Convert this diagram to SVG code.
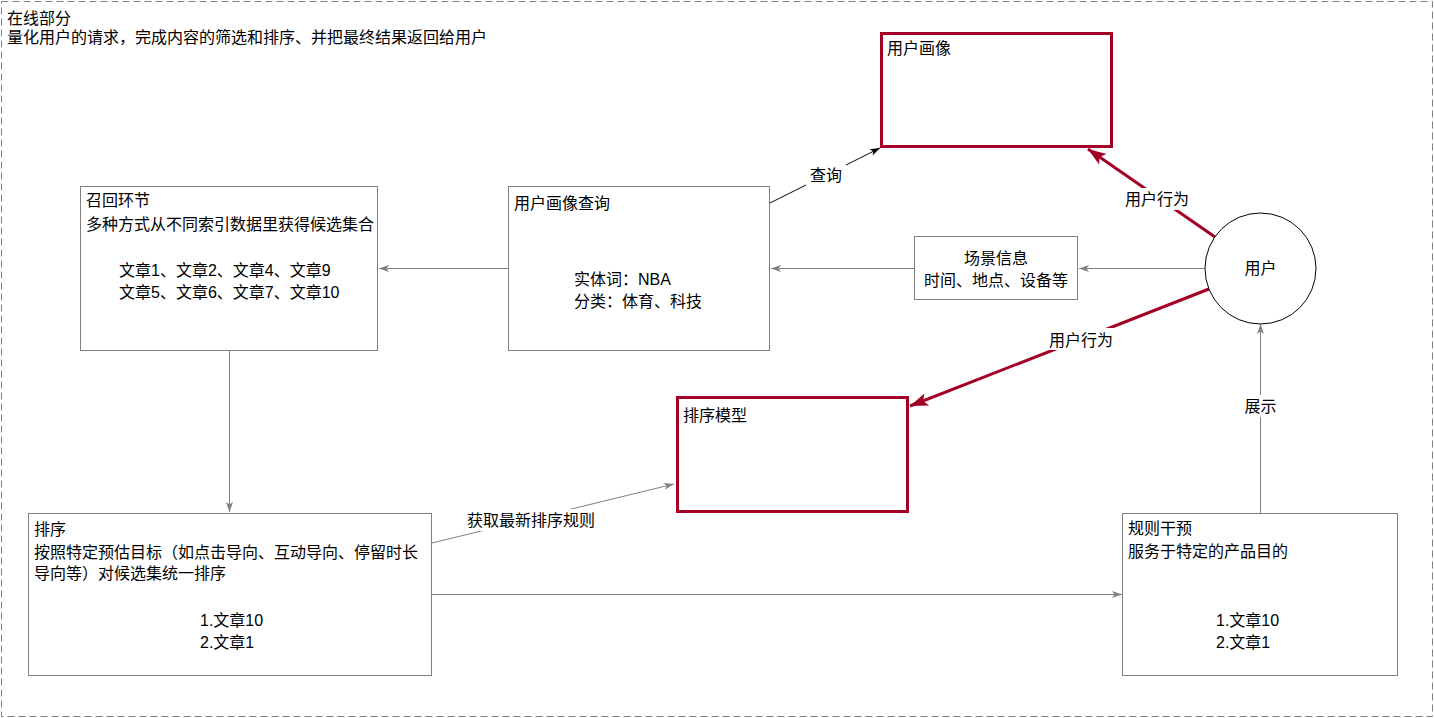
<svg xmlns="http://www.w3.org/2000/svg" width="1434" height="718" viewBox="0 0 1434 718">
<style>
text{font-family:"Liberation Sans","Noto Sans CJK SC",sans-serif;font-size:16px;fill:#000}
.c{text-anchor:middle}
.box{fill:#fff;stroke:#808080;stroke-width:1}
.rbox{fill:#fff;stroke:#A20025;stroke-width:3}
.ln{fill:none;stroke:#808080;stroke-width:1}
.lk{fill:none;stroke:#000;stroke-width:1}
.lr{fill:none;stroke:#A20025;stroke-width:3}
.lbl{fill:#fff;stroke:none}
</style>
<defs>
<marker id="ag" markerUnits="userSpaceOnUse" markerWidth="12" markerHeight="10" viewBox="0 0 12 10" refX="11" refY="5" orient="auto"><path d="M1,1.5 L11,5 L1,8.5 L3.5,5 z" fill="#808080"/></marker>
<marker id="ak" markerUnits="userSpaceOnUse" markerWidth="12" markerHeight="10" viewBox="0 0 12 10" refX="11" refY="5" orient="auto"><path d="M1,1.5 L11,5 L1,8.5 L3.5,5 z" fill="#000"/></marker>
<marker id="ar" markerUnits="userSpaceOnUse" markerWidth="20" markerHeight="16" viewBox="0 0 20 16" refX="19" refY="8" orient="auto"><path d="M1,1.5 L19,8 L1,14.5 L5,8 z" fill="#A20025"/></marker>
</defs>
<rect width="1434" height="718" fill="#fff"/>
<g id="container">
<rect x="1.5" y="1.5" width="1431" height="715" fill="none" stroke="#808080" stroke-dasharray="7 4"/>
<text x="7" y="24">在线部分</text>
<text x="7" y="43">量化用户的请求，完成内容的筛选和排序、并把最终结果返回给用户</text>
</g>
<g id="connectors">
<path class="ln" d="M229.5,351 V512" marker-end="url(#ag)"/>
<path class="ln" d="M508,268.5 H379" marker-end="url(#ag)"/>
<path class="ln" d="M914,268.5 H771" marker-end="url(#ag)"/>
<path class="ln" d="M1205,268.5 H1079" marker-end="url(#ag)"/>
<path class="ln" d="M432,594.5 H1122" marker-end="url(#ag)"/>
<path class="ln" d="M1260.5,513 V324" marker-end="url(#ag)"/>
<path class="ln" d="M432,543 L674,484" marker-end="url(#ag)"/>
<path class="lk" d="M770,203 L880,148" marker-end="url(#ak)"/>
<path class="lr" d="M1215,237 L1088,149" marker-end="url(#ar)"/>
<path class="lr" d="M1209,289 L910,406" marker-end="url(#ar)"/>
<rect class="lbl" x="806" y="164" width="40" height="22"/>
<text class="c" x="826" y="181">查询</text>
<rect class="lbl" x="465" y="509" width="132" height="22"/>
<text class="c" x="531" y="526">获取最新排序规则</text>
<rect class="lbl" x="1124" y="188" width="67" height="22"/>
<text class="c" x="1157" y="205">用户行为</text>
<rect class="lbl" x="1047" y="328" width="68" height="22"/>
<text class="c" x="1081" y="346">用户行为</text>
<rect class="lbl" x="1240" y="395" width="41" height="22"/>
<text class="c" x="1260.5" y="412">展示</text>
</g>
<g id="profile">
<rect class="rbox" x="881.5" y="33.5" width="230" height="113"/>
<text x="887" y="54">用户画像</text>
</g>
<g id="recall">
<rect class="box" x="80.5" y="186.5" width="297" height="164"/>
<text x="86" y="206">召回环节</text>
<text x="86" y="230">多种方式从不同索引数据里获得候选集合</text>
<text x="119" y="276">文章1、文章2、文章4、文章9</text>
<text x="119" y="298">文章5、文章6、文章7、文章10</text>
</g>
<g id="profile-query">
<rect class="box" x="508.5" y="186.5" width="261" height="164"/>
<text x="514" y="209">用户画像查询</text>
<text x="574" y="285">实体词：NBA</text>
<text x="574" y="307">分类：体育、科技</text>
</g>
<g id="scene">
<rect class="box" x="914.5" y="236.5" width="163" height="63"/>
<text class="c" x="996" y="264">场景信息</text>
<text class="c" x="996" y="286">时间、地点、设备等</text>
</g>
<g id="user">
<circle cx="1260.5" cy="268.5" r="55.5" fill="#fff" stroke="#000" stroke-width="1"/>
<text class="c" x="1260.5" y="274">用户</text>
</g>
<g id="rank-model">
<rect class="rbox" x="677.5" y="397.5" width="230" height="114"/>
<text x="683" y="421">排序模型</text>
</g>
<g id="rank">
<rect class="box" x="28.5" y="513.5" width="403" height="162"/>
<text x="34" y="535">排序</text>
<text x="34" y="558">按照特定预估目标（如点击导向、互动导向、停留时长</text>
<text x="34" y="579">导向等）对候选集统一排序</text>
<text x="200" y="626">1.文章10</text>
<text x="200" y="648">2.文章1</text>
</g>
<g id="rules">
<rect class="box" x="1122.5" y="513.5" width="275" height="162"/>
<text x="1128" y="534">规则干预</text>
<text x="1128" y="557">服务于特定的产品目的</text>
<text x="1216" y="626">1.文章10</text>
<text x="1216" y="648">2.文章1</text>
</g>
</svg>
